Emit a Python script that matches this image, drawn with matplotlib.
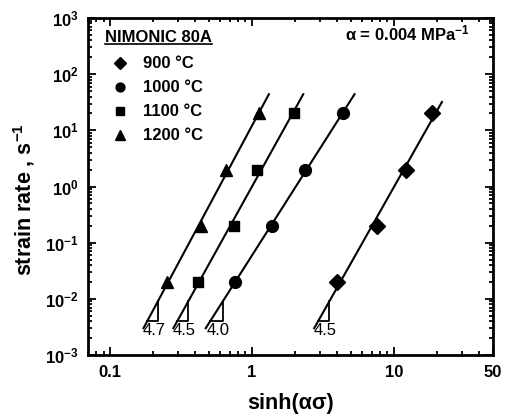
import numpy as np
import matplotlib
matplotlib.use("Agg")
import matplotlib.pyplot as plt
from matplotlib.ticker import FixedLocator, LogLocator, NullFormatter, FixedFormatter

plt.rcParams['font.family'] = ['Liberation Sans', 'DejaVu Sans']
plt.rcParams['font.weight'] = 'bold'
plt.rcParams['mathtext.fontset'] = 'custom'
plt.rcParams['mathtext.rm'] = 'Liberation Sans'
plt.rcParams['mathtext.bf'] = 'Liberation Sans:bold'
plt.rcParams['mathtext.default'] = 'bf'

# data
strain_rate = [0.02, 0.2, 2.0, 20.0]
labels = ['900 °C', '1000 °C', '1100 °C', '1200 °C']
markers = ['D', 'o', 's', '^']
msizes = [8, 8.5, 7.5, 9]
sinh_900 = [3.97, 7.6, 12.2, 18.5]
sinh_1000 = [0.76, 1.38, 2.38, 4.37]
sinh_1100 = [0.42, 0.75, 1.08, 1.98]
sinh_1200 = [0.253, 0.44, 0.66, 1.12]
slope_text = ['4.5', '4.0', '4.5', '4.7']
line_top = [32, 44, 44, 44]      # upper end of each fit line (strain rate)
line_bottom = 0.003
tri_lo, tri_hi = 0.004, 0.009    # strain-rate span of the slope triangles

x_ticks = [0.1, 1, 10, 50]
x_ticklabels = ['0.1', '1', '10', '50']

fig = plt.figure(figsize=(5.07, 4.17), dpi=100)
ax = fig.add_axes([0.1736, 0.1487, 0.7988, 0.8081])

series = [sinh_900, sinh_1000, sinh_1100, sinh_1200]
handles = []
for xs, lab, mk, ms, top, st in zip(series, labels, markers, msizes, line_top, slope_text):
    lx = np.log10(xs)
    ly = np.log10(strain_rate)
    n, c = np.polyfit(lx, ly, 1)
    def x_at(y):
        return 10 ** ((np.log10(y) - c) / n)
    yl = np.array([line_bottom, top])
    ax.plot(x_at(yl), yl, color='black', lw=1.5)
    h, = ax.plot(xs, strain_rate, linestyle='none', marker=mk, ms=ms, color='black', label=lab)
    handles.append(h)
    # slope triangle
    x0, x1 = x_at(tri_lo), x_at(tri_hi)
    ax.plot([x0, x1, x1], [tri_lo, tri_lo, tri_hi], color='black', lw=1.3)
    ax.annotate(st, xy=(np.sqrt(x0 * x1), tri_lo), xytext=(1, -1.5),
                textcoords='offset points', ha='center', va='top',
                fontsize=12, fontweight='normal')

ax.set_xscale('log')
ax.set_yscale('log')
ax.set_xlim(0.07, 50)
ax.set_ylim(1e-3, 1e3)

ax.xaxis.set_major_locator(FixedLocator(x_ticks))
ax.xaxis.set_major_formatter(FixedFormatter(x_ticklabels))
ax.xaxis.set_minor_locator(LogLocator(base=10, subs=np.arange(2, 10)))
ax.xaxis.set_minor_formatter(NullFormatter())
ax.yaxis.set_major_locator(LogLocator(base=10, numticks=10))
ax.yaxis.set_minor_locator(LogLocator(base=10, subs=np.arange(2, 10), numticks=10))
ax.yaxis.set_minor_formatter(NullFormatter())

ax.tick_params(which='both', direction='in', top=True, right=True, width=1.3, labelsize=12)
ax.tick_params(which='major', length=6, pad=7)
ax.tick_params(which='minor', length=3)
for sp in ax.spines.values():
    sp.set_linewidth(2)

ax.set_xlabel('sinh(ασ)', fontsize=15.5, fontweight='bold', va='center')
ax.xaxis.set_label_coords(0.5, -0.143)
ax.set_ylabel('strain rate , s$^{-1}$', fontsize=15.5, fontweight='bold', va='center')
ax.yaxis.set_label_coords(-0.158, 0.46)

# legend with underlined title
leg = ax.legend(handles=handles, loc='upper left', bbox_to_anchor=(0.0585, 0.886),
                frameon=False, fontsize=12, handletextpad=0.87, labelspacing=0.54,
                handlelength=1.0, markerscale=0.75, borderaxespad=0, borderpad=0)
for t in leg.get_texts():
    t.set_fontweight('bold')
title = ax.text(0.042, 0.9407, 'NIMONIC 80A', transform=ax.transAxes,
                fontsize=12, fontweight='bold', va='center', ha='left')
fig.canvas.draw()
bb = title.get_window_extent().transformed(ax.transAxes.inverted())
ax.plot([bb.x0, bb.x1], [bb.y0 + 0.004, bb.y0 + 0.004], transform=ax.transAxes,
        color='black', lw=1.2, clip_on=False)

ax.text(0.943, 0.955, 'α = 0.004 MPa$^{-1}$', transform=ax.transAxes,
        fontsize=12, fontweight='bold', ha='right', va='center')

fig.savefig('out.png', dpi=100)
